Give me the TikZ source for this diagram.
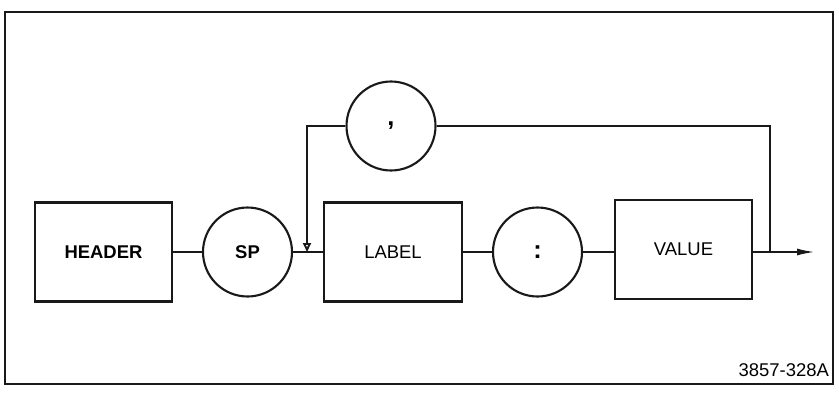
\documentclass[tikz,border=0pt]{standalone}
\usepackage{fontspec}
\setsansfont{Liberation Sans}
\usepackage{tikz}
\usetikzlibrary{shapes.geometric, arrows.meta, positioning, calc}
\definecolor{inkblack}{RGB}{25, 25, 25}
\tikzset{
  syntaxbox/.style={draw=inkblack, line width=1.2pt, minimum width=2.75cm, minimum height=1.98cm, font=\sffamily\fontsize{10.5}{12}\selectfont},
  syntaxcirc/.style={draw=inkblack, line width=1.2pt, circle, minimum size=1.78cm, font=\sffamily\fontsize{10.5}{12}\selectfont},
  flow/.style={draw=inkblack, line width=1.1pt}
}
\begin{document}
\begin{tikzpicture}
    \useasboundingbox (0,0) rectangle (16.78,7.84);
    % Frame
    \draw[inkblack, line width=1pt] (0.1,0.16) rectangle (16.66,7.6);
    % Main row
    \node[syntaxbox] (header) at (2.07,2.8) {\bfseries HEADER};
    \node[syntaxcirc] (sp) at (4.95,2.8) {\bfseries SP};
    \node[syntaxbox] (label) at (7.86,2.8) {LABEL};
    \node[syntaxcirc] (colon) at (10.75,2.8) {\Large\bfseries :};
    \node[syntaxbox] (value) at (13.67,2.85) {VALUE};
    % Repeat loop
    \node[syntaxcirc] (comma) at (7.82,5.32) {\Large\bfseries ,};
    \coordinate (join) at (6.14,2.8);
    \coordinate (branch) at (15.4,2.8);
    \coordinate (exit) at (16.3,2.8);
    % Connectors
    \draw[flow] (header) -- (sp);
    \draw[flow] (sp) -- (label);
    \draw[flow] (label) -- (colon);
    \draw[flow] (colon) -- (value.west |- colon);
    \draw[flow, -{Latex[length=3.6mm, width=1.4mm]}] (value.east |- branch) -- (exit);
    \draw[flow] (branch) |- (comma.east);
    \draw[flow, -{Triangle[open, length=1.8mm, width=1.6mm]}] (comma.west) -| (join);
    % Figure number
    \node[font=\sffamily\fontsize{10.5}{12}\selectfont, anchor=east, inner sep=1pt] (fignum) at (16.62,0.44) {3857-328A};
\end{tikzpicture}
\end{document}
